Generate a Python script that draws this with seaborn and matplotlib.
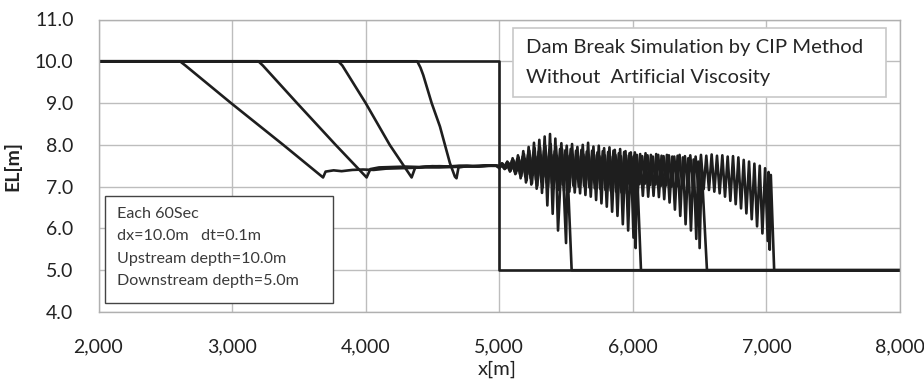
import matplotlib
matplotlib.use("Agg")
import matplotlib.pyplot as plt
from matplotlib.patches import Rectangle
from matplotlib.ticker import StrMethodFormatter, MultipleLocator
import seaborn as sns
import numpy as np
import pandas as pd

# ---------------------------
# DATA
# ---------------------------
# initial condition
init_x = [2000, 5000, 5000, 8000]
init_y = [10.0, 10.0, 5.0, 5.0]

# rarefaction part of each snapshot (t = 60, 120, 180, 240 s)
rare60_x = [2000, 4386, 4410, 4431, 4494, 4556, 4631, 4668, 4680]
rare60_y = [10.0, 10.0, 9.85, 9.67, 9.00, 8.44, 7.56, 7.24, 7.20]
rare120_x = [2000, 3795, 3825, 4000, 4180, 4344]
rare120_y = [10.0, 10.0, 9.90, 9.00, 8.00, 7.22]
rare180_x = [2000, 3197, 3230, 3486, 3775, 4007]
rare180_y = [10.0, 10.0, 9.90, 9.00, 8.00, 7.22]
rare240_x = [2000, 2610, 2650, 2992, 3383, 3681]
rare240_y = [10.0, 10.0, 9.90, 9.00, 8.00, 7.22]

# plateau between rarefaction and the old dam site
plat60_x = [4695, 4760, 4840, 4920]
plat60_y = [7.46, 7.49, 7.48, 7.50]
plat120_x = [4370, 4450, 4550, 4650, 4750, 4850, 4940]
plat120_y = [7.45, 7.48, 7.49, 7.48, 7.50, 7.49, 7.51]
plat180_x = [4035, 4100, 4200, 4300, 4400, 4500, 4600, 4700, 4800, 4900, 4950]
plat180_y = [7.42, 7.46, 7.47, 7.48, 7.47, 7.49, 7.48, 7.50, 7.49, 7.51, 7.50]
plat240_x = [3700, 3760, 3820, 3900, 3980, 4060, 4150, 4250, 4350, 4450, 4550,
             4650, 4750, 4850, 4950]
plat240_y = [7.36, 7.39, 7.37, 7.40, 7.41, 7.40, 7.43, 7.44, 7.45, 7.46, 7.46,
             7.47, 7.48, 7.49, 7.50]

# oscillations behind the bore, one value every 20 m from each start x
osc_dx = 20
osc60_start = 4980
osc60 = [7.50, 7.44, 7.56, 7.42, 7.60, 7.36, 7.68, 7.30, 7.75, 7.20,
         7.85, 7.10, 7.95, 7.05, 8.05, 6.95, 8.12, 6.85, 8.20, 6.55,
         8.26, 6.35, 8.15, 5.95]
osc120_start = 4985
osc120 = [7.50, 7.46, 7.55, 7.43, 7.58, 7.38, 7.64, 7.32, 7.70, 7.25,
          7.78, 7.15, 7.86, 7.08, 7.92, 7.02, 7.95, 6.98, 7.98, 7.00,
          8.02, 6.95, 7.96, 6.92, 8.04, 6.90, 7.98, 6.88, 8.02, 6.86,
          7.95, 6.84, 8.00, 6.80, 8.05, 6.76, 7.96, 6.68, 7.98, 6.60,
          7.92, 6.52, 7.94, 6.40, 7.88, 6.30, 7.90, 6.10, 7.85, 5.95,
          7.82, 5.78]
osc180_start = 4975
osc180 = [7.50, 7.47, 7.54, 7.44, 7.57, 7.40, 7.62, 7.36, 7.66, 7.30,
          7.72, 7.24, 7.76, 7.20, 7.80, 7.16, 7.84, 7.12, 7.86, 7.10,
          7.88, 7.08, 7.85, 7.06, 7.90, 7.05, 7.87, 7.04, 7.90, 7.02,
          7.86, 7.00, 7.88, 7.02, 7.84, 6.98, 7.86, 6.96, 7.82, 6.95,
          7.85, 6.92, 7.83, 6.90, 7.86, 6.88, 7.80, 6.86, 7.83, 6.84,
          7.80, 6.82, 7.82, 6.80, 7.78, 6.78, 7.80, 6.76, 7.76, 6.78,
          7.78, 6.75, 7.74, 6.70, 7.76, 6.62, 7.72, 6.45, 7.74, 6.30,
          7.70, 6.10, 7.68, 5.95, 7.65, 5.75]
osc240_start = 4990
osc240 = [7.50, 7.48, 7.53, 7.45, 7.56, 7.42, 7.60, 7.38, 7.63, 7.34,
          7.67, 7.30, 7.70, 7.28, 7.72, 7.26, 7.75, 7.24, 7.73, 7.25,
          7.76, 7.22, 7.74, 7.23, 7.77, 7.20, 7.74, 7.21, 7.76, 7.18,
          7.73, 7.19, 7.77, 7.16, 7.74, 7.17, 7.76, 7.14, 7.73, 7.15,
          7.75, 7.12, 7.72, 7.13, 7.76, 7.10, 7.73, 7.11, 7.75, 7.08,
          7.72, 7.09, 7.76, 7.06, 7.73, 7.07, 7.75, 7.04, 7.72, 7.05,
          7.76, 7.02, 7.73, 7.03, 7.75, 7.00, 7.72, 7.01, 7.76, 6.98,
          7.73, 6.99, 7.75, 6.96, 7.72, 6.97, 7.76, 6.94, 7.74, 6.92,
          7.77, 6.88, 7.74, 6.84, 7.75, 6.76, 7.72, 6.66, 7.73, 6.58,
          7.70, 6.48, 7.64, 6.36, 7.60, 6.22, 7.55, 6.05, 7.50, 5.88,
          7.44, 5.70]

# bore front of each snapshot
front60_x = [5470, 5500, 5510, 5542, 8000]
front60_y = [7.90, 5.65, 7.45, 5.0, 5.0]
front120_x = [6012, 6021, 6030, 6061, 8000]
front120_y = [7.75, 5.53, 7.50, 5.0, 5.0]
front180_x = [6490, 6500, 6515, 6555, 8000]
front180_y = [7.60, 5.53, 7.45, 5.0, 5.0]
front240_x = [7016, 7025, 7033, 7058, 8000]
front240_y = [7.35, 5.49, 7.28, 5.0, 5.0]

box1_lines = ["Dam Break Simulation by CIP Method", "Without  Artificial Viscosity"]
box2_lines = ["Each 60Sec", "dx=10.0m   dt=0.1m", "Upstream depth=10.0m",
              "Downstream depth=5.0m"]


def snapshot(name, rx, ry, px, py, start, osc, fx, fy):
    ox = [start + osc_dx * i for i in range(len(osc))]
    xs = rx + px + ox + fx
    ys = ry + py + osc + fy
    return pd.DataFrame({"x": xs, "el": ys, "snap": name})


df = pd.concat([
    pd.DataFrame({"x": init_x, "el": init_y, "snap": "t0"}),
    snapshot("t60", rare60_x, rare60_y, plat60_x, plat60_y, osc60_start, osc60,
             front60_x, front60_y),
    snapshot("t120", rare120_x, rare120_y, plat120_x, plat120_y, osc120_start, osc120,
             front120_x, front120_y),
    snapshot("t180", rare180_x, rare180_y, plat180_x, plat180_y, osc180_start, osc180,
             front180_x, front180_y),
    snapshot("t240", rare240_x, rare240_y, plat240_x, plat240_y, osc240_start, osc240,
             front240_x, front240_y),
], ignore_index=True)

# ---------------------------
# PLOT
# ---------------------------
sns.set_style("white")
plt.rcParams["font.family"] = ["Lato", "DejaVu Sans"]

W, H = 924, 381
fig = plt.figure(figsize=(W / 100, H / 100), dpi=100)
ax = fig.add_axes([98.5 / W, 1 - 312 / H, (900 - 98.5) / W, (312 - 19.5) / H])

sns.lineplot(data=df, x="x", y="el", units="snap", estimator=None, sort=False,
             color="#1e1e1e", linewidth=1.9, ax=ax, legend=False)

ax.set_xlim(2000, 8000)
ax.set_ylim(4, 11)
ax.xaxis.set_major_locator(MultipleLocator(1000))
ax.yaxis.set_major_locator(MultipleLocator(1))
ax.xaxis.set_major_formatter(StrMethodFormatter("{x:,.0f}"))
ax.yaxis.set_major_formatter(StrMethodFormatter("{x:.1f}"))
ax.grid(True, color="#bdbdbd", linewidth=1.0)
ax.set_axisbelow(True)
for s in ax.spines.values():
    s.set_color("#b0b0b0")
    s.set_linewidth(1.0)
ax.tick_params(length=0, labelsize=14, colors="#222222")
ax.tick_params(axis="y", pad=18)
ax.tick_params(axis="x", pad=19)
ax.set_xlabel("x[m]", fontsize=14.5, color="#222222")
ax.set_ylabel("EL[m]", fontsize=14, fontweight="bold", color="#222222")
ax.xaxis.set_label_coords(0.497, -0.165)
ax.yaxis.set_label_coords(-0.096, 0.5)


def fig_box(x0, y0, x1, y1, edge, lw):
    r = Rectangle((x0 / W, 1 - y1 / H), (x1 - x0) / W, (y1 - y0) / H,
                  transform=fig.transFigure, facecolor="white", edgecolor=edge,
                  linewidth=lw, zorder=5)
    fig.add_artist(r)


fig_box(513, 28, 886, 97, "#c8c8c8", 1.2)
for i, line in enumerate(box1_lines):
    fig.text(526 / W, 1 - (48 + 29 * i) / H, line, fontsize=14.6, color="#262626",
             va="center", ha="left", zorder=6)

fig_box(105, 196, 333, 303, "#444444", 1.0)
for i, line in enumerate(box2_lines):
    fig.text(117 / W, 1 - (214 + 22.5 * i) / H, line, fontsize=11.6, color="#3a3a3a",
             va="center", ha="left", zorder=6)

fig.savefig("out.png", dpi=100)
